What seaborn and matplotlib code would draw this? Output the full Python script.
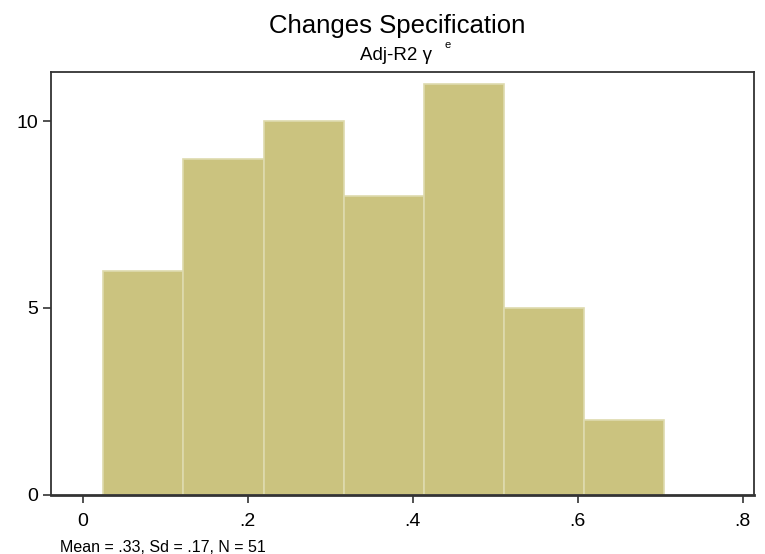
import matplotlib
matplotlib.use("Agg")
import matplotlib.pyplot as plt
import seaborn as sns
import numpy as np
import pandas as pd

# Data
bin_edges = [0.025, 0.1221, 0.2192, 0.3163, 0.4134, 0.5105, 0.6076, 0.7047]
counts = [6, 9, 10, 8, 11, 5, 2]
x_ticks = [0, 0.2, 0.4, 0.6, 0.8]
x_tick_labels = ["0", ".2", ".4", ".6", ".8"]
y_ticks = [0, 5, 10]
y_tick_labels = ["0", "5", "10"]
title = "Changes Specification"
subtitle = "Adj-R2 \u03b3"
subtitle_sup = "e"
note = "Mean = .33, Sd = .17, N = 51"

sns.set_style("white")
plt.rcParams['font.family'] = ['Liberation Sans', 'DejaVu Sans']
plt.rcParams['text.color'] = 'black'
plt.rcParams['xtick.color'] = 'black'
plt.rcParams['ytick.color'] = 'black'

centers = [(bin_edges[i] + bin_edges[i + 1]) / 2 for i in range(len(counts))]
df = pd.DataFrame({"x": centers, "w": counts})

W, H = 765, 554
fig = plt.figure(figsize=(W / 100, H / 100), dpi=100)
ax = fig.add_axes([51 / W, 1 - 494.5 / H, (754 - 51) / W, (494.5 - 72) / H])

sns.histplot(data=df, x="x", weights="w", bins=bin_edges, ax=ax,
             color="#CBC37F", alpha=1.0, edgecolor="#DEDAAE", linewidth=1.2)

ax.set_xlim(-0.0384, 0.8137)
ax.set_ylim(0, 11.32)
ax.set_xticks(x_ticks)
ax.set_xticklabels(x_tick_labels)
ax.set_yticks(y_ticks)
ax.set_yticklabels(y_tick_labels)
ax.set_xlabel("")
ax.set_ylabel("")
ax.tick_params(axis="both", which="both", direction="out", length=5.5, width=1.2,
               color="#333333", labelcolor="black", labelsize=14,
               left=True, bottom=True)
ax.tick_params(axis="x", pad=8)
ax.tick_params(axis="y", pad=4)
for s in ax.spines.values():
    s.set_visible(True)
    s.set_color("#333333")
    s.set_linewidth(1.3)
ax.spines["bottom"].set_linewidth(2.0)

fig.text(397.5 / W, 1 - 33.5 / H, title, ha="center", va="baseline", fontsize=18.5)
fig.text(396 / W, 1 - 60 / H, subtitle, ha="center", va="baseline", fontsize=13.5)
fig.text(444 / W, 1 - 48.3 / H, subtitle_sup, ha="left", va="baseline", fontsize=8)
fig.text(60 / W, 1 - 551.5 / H, note, ha="left", va="baseline", fontsize=11.5)

fig.savefig("out.png", dpi=100)
